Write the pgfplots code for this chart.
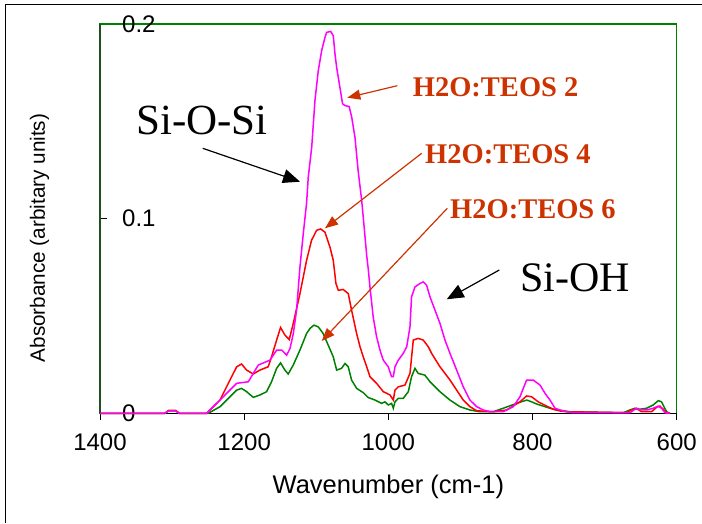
\documentclass[border=0pt]{standalone}
\usepackage{pgfplots}
\pgfplotsset{compat=1.18}
\usepackage{fontspec}
\setmainfont{Liberation Sans}
\newfontfamily\timesf{Liberation Serif}
\usetikzlibrary{arrows.meta}
\definecolor{frgreen}{RGB}{0,128,0}
\definecolor{darkfr}{RGB}{30,80,30}
\definecolor{annot}{RGB}{204,51,0}
\definecolor{cmag}{RGB}{255,0,255}
\definecolor{cred}{RGB}{255,0,0}
\definecolor{cgreen}{RGB}{0,128,0}

\pgfplotstableread{
w v
1400 0
1310 0
1305 0.0012
1295 0.0012
1290 0
1252 0
1233.5 0.0068
1210.4 0.0154
1194.3 0.0162
1180.4 0.0248
1164.2 0.0273
1154.9 0.0325
1148 0.0325
1141.1 0.0299
1136.4 0.0333
1131.8 0.041
1127.3 0.053
1122.6 0.0752
1118 0.0923
1113.4 0.108
1111.1 0.1213
1106.3 0.1367
1101.8 0.1607
1097.2 0.176
1092.5 0.1863
1087.9 0.1931
1085.6 0.1957
1080 0.1962
1076.4 0.194
1074 0.1846
1071.7 0.1777
1067.2 0.1675
1063.5 0.159
1060.1 0.1581
1054.3 0.1576
1050.8 0.1521
1046.3 0.1418
1042 0.125
1037 0.1094
1034.8 0.1008
1030 0.081
1027.7 0.0735
1025.5 0.0649
1021 0.0495
1016.3 0.0393
1011.6 0.0325
1007 0.0273
1000.1 0.0239
995.5 0.0188
993.1 0.0188
990.8 0.0239
986.2 0.0273
979.3 0.0308
974.5 0.0342
970 0.0444
967.8 0.0598
963.1 0.0649
956.1 0.0667
951.6 0.0675
946.9 0.0658
942.2 0.0598
935.3 0.053
928.4 0.0462
921.4 0.0376
914.5 0.0308
905.2 0.0222
896.1 0.0136
886.8 0.0068
877.4 0.0034
868.3 0.0017
859 0.0008
840.6 0.0008
826.7 0.0034
817.4 0.0085
808.2 0.0171
799 0.0171
789.6 0.0145
782.7 0.0103
775.8 0.0068
768.8 0.0026
761.9 0.0017
752.7 0.0008
743.4 0.0003
664.8 0.0003
655.6 0.0026
651 0.0017
641.7 0.0017
632.6 0.0026
625.6 0.0037
621 0.0026
616.3 0.0003
609.4 0
}\teostwo

\pgfplotstableread{
w v
1400 0
1310 0
1305 0.0015
1295 0.0015
1290 0
1252 0
1233.5 0.0068
1219.7 0.0171
1210.4 0.0239
1203.6 0.0253
1196.6 0.0222
1187.4 0.0202
1178.2 0.0222
1166.7 0.0239
1162 0.029
1155 0.0376
1149.5 0.0441
1143.5 0.0402
1137.5 0.0379
1131.9 0.0462
1122.6 0.0615
1113.4 0.0786
1106.5 0.0889
1099.5 0.094
1094 0.0947
1088 0.0931
1081 0.0854
1076.4 0.0786
1072.7 0.0667
1069.4 0.0632
1062.6 0.0636
1055.6 0.0615
1051 0.053
1044 0.041
1039.3 0.0342
1034.8 0.029
1030 0.0239
1025.5 0.0188
1016.3 0.0154
1007 0.0111
1002.4 0.0103
997.7 0.0094
993.1 0.0068
990.8 0.0119
986.2 0.0136
976.9 0.0145
970 0.0205
965.4 0.0376
958.6 0.0385
951.6 0.0376
944.6 0.0342
940 0.0308
928.4 0.0239
914.5 0.0171
905.2 0.0119
896.1 0.0068
886.8 0.0034
877.4 0.0013
854.5 0.0008
836 0.0017
817.4 0.0059
808.2 0.0089
801.3 0.0085
792.1 0.0059
780.4 0.0037
771.3 0.0021
762 0.0012
752.6 0.0008
669.4 0.0003
662.6 0.0017
655.6 0.0024
648.7 0.0008
634.8 0.0008
627.9 0.0031
623.4 0.0037
618.7 0.0021
615 0.0003
609 0
}\teosfour

\pgfplotstableread{
w v
1400 0
1310 0
1305 0.0012
1295 0.0012
1290 0
1249.8 0
1233.5 0.0034
1219.7 0.0085
1210.4 0.0119
1203.6 0.0128
1196.6 0.0111
1187.4 0.0082
1178.2 0.0094
1168.9 0.0111
1162 0.0162
1155 0.0231
1149.5 0.0259
1143.5 0.0222
1138.9 0.0202
1131.9 0.0248
1122.6 0.0325
1113.4 0.041
1108.7 0.0436
1103.2 0.0453
1097.2 0.0444
1090.4 0.041
1083.4 0.035
1076.4 0.029
1071.7 0.0222
1064.9 0.0231
1060.1 0.0256
1055.6 0.0239
1051 0.0171
1044 0.0128
1034.8 0.0106
1027.9 0.0081
1018.5 0.0068
1009.4 0.0051
1004.7 0.0059
1000.1 0.0043
995.5 0.0051
993.1 0.0026
990.8 0.0059
986.2 0.0077
979.3 0.0077
972.3 0.0111
967.8 0.0188
963.1 0.0231
958.6 0.0205
949.3 0.0196
942.2 0.0162
928.4 0.0111
914.5 0.0068
900.6 0.0034
886.8 0.0017
872.9 0.0008
854.5 0.0008
840.6 0.0026
822.1 0.0051
808 0.0068
801.3 0.0059
794.4 0.0048
785.2 0.0037
775.9 0.0026
766.6 0.0017
757.4 0.0013
748.1 0.0008
674.2 0.0003
665 0.0017
658 0.0026
651 0.0021
641.7 0.0026
632.5 0.0043
625.6 0.0065
621 0.0059
617.7 0.0034
614 0.0008
609.4 0
}\teossix

\begin{document}
\begin{tikzpicture}
\useasboundingbox (0,0) rectangle (702pt,523pt);
\draw[black, line width=1.1pt] (5.5pt,0) -- (5.5pt,518.5pt) -- (702pt,518.5pt);
\begin{axis}[
  at={(100pt,109.7pt)}, anchor=south west,
  scale only axis, width=576.7pt, height=389.3pt,
  xmin=600, xmax=1400, ymin=0, ymax=0.2,
  x dir=reverse,
  xtick={600,800,1000,1200,1400},
  ytick={0,0.1,0.2},
  xtick pos=bottom, ytick pos=left,
  major tick length=7pt,
  tick style={black, line width=0.8pt},
  x tick style={yshift=-7pt},
  axis line style={frgreen, line width=1.1pt},
  /pgf/number format/assume math mode=true,
  /pgf/number format/1000 sep={},
  ticklabel style={font=\fontsize{24}{28}\selectfont},
  xticklabel style={anchor=north, inner sep=0pt, yshift=-20pt},
  yticklabel style={anchor=west, inner sep=0pt, xshift=22pt},
  xlabel={Wavenumber (cm-1)},
  ylabel={Absorbance (arbitary units)},
  xlabel style={at={(axis description cs:0.5,-0.2055)}, anchor=base, font=\fontsize{25.5}{30}\selectfont},
  ylabel style={at={(axis description cs:-0.0954,0.4503)}, anchor=base, rotate=0, font=\fontsize{20.7}{25}\selectfont},
  clip=false,
]
\draw[darkfr, line width=1.1pt] (rel axis cs:0,0) -- (rel axis cs:0,1);
\draw[black, line width=1.1pt] (rel axis cs:0,0) -- (rel axis cs:1,0);
\addplot[cgreen, line width=1.5pt] table[x=w, y=v] {\teossix};
\addplot[cred, line width=1.5pt] table[x=w, y=v] {\teosfour};
\addplot[cmag, line width=1.5pt] table[x=w, y=v] {\teostwo};
\end{axis}
% annotations (picture coordinates)
\node[anchor=base west, inner sep=0pt, font=\timesf\fontsize{43}{48}\selectfont] at (136pt,388pt) {Si-O-Si};
\node[anchor=base west, inner sep=0pt, font=\timesf\fontsize{42}{48}\selectfont] at (520pt,231pt) {Si-OH};
\node[anchor=base west, inner sep=0pt, text=annot, font=\timesf\bfseries\fontsize{28.5}{32}\selectfont] at (412.7pt,426.3pt) {H2O:TEOS 2};
\node[anchor=base west, inner sep=0pt, text=annot, font=\timesf\bfseries\fontsize{28.5}{32}\selectfont] at (425pt,359.7pt) {H2O:TEOS 4};
\node[anchor=base west, inner sep=0pt, text=annot, font=\timesf\bfseries\fontsize{28.5}{32}\selectfont] at (450pt,304pt) {H2O:TEOS 6};
\draw[black, line width=1.2pt, -{Triangle[length=17pt,width=14pt]}] (202.7pt,374.7pt) -- (300pt,341.3pt);
\draw[black, line width=1.2pt, -{Triangle[length=17pt,width=14pt]}] (499.3pt,253pt) -- (446.7pt,223.7pt);
\draw[annot, line width=1.2pt, -{Triangle[length=13pt,width=10pt]}] (397.3pt,437.3pt) -- (347.3pt,425.3pt);
\draw[annot, line width=1.2pt, -{Triangle[length=13pt,width=10pt]}] (421.7pt,369.7pt) -- (325pt,294.7pt);
\draw[annot, line width=1.2pt, -{Triangle[length=13pt,width=10pt]}] (447.3pt,314.7pt) -- (321.7pt,182pt);
\end{tikzpicture}
\end{document}
